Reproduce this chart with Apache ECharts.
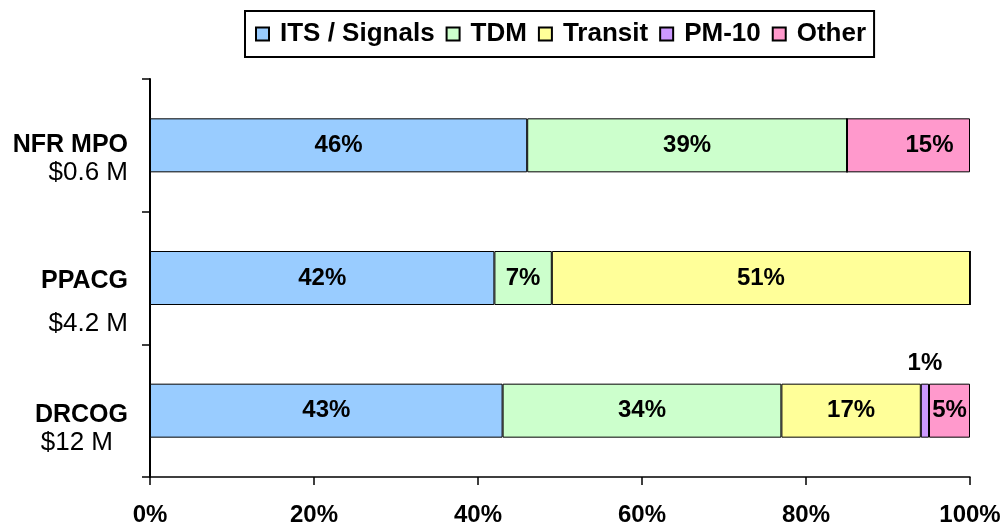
<!DOCTYPE html>
<html>
<head>
<meta charset="utf-8">
<script src="https://cdn.jsdelivr.net/npm/echarts@6/dist/echarts.min.js"></script>
<style>
html,body{margin:0;padding:0;background:#fff;}
#chart{width:1008px;height:527px;}
</style>
</head>
<body>
<div id="chart"></div>
<script>
const categories = ['NFR MPO', 'PPACG', 'DRCOG'];
const budgets = ['$0.6 M', '$4.2 M', '$12 M'];
const seriesNames = ['ITS / Signals', 'TDM', 'Transit', 'PM-10', 'Other'];
const itsSignals = [46, 42, 43];
const tdm = [39, 7, 34];
const transit = [0, 51, 17];
const pm10 = [0, 0, 1];
const other = [15, 0, 5];
const xTicks = [0, 20, 40, 60, 80, 100];

const colors = ['#99CCFF', '#CCFFCC', '#FFFF99', '#CC99FF', '#FF99CC'];
const allValues = [itsSignals, tdm, transit, pm10, other];
const FONT = '"Liberation Sans", Arial, sans-serif';

// per-category label line heights (top spacer, name, budget)
const lineH = [[27, 27, 27], [49, 43, 43], [36, 28, 28]];
const rich = {};
lineH.forEach((h, i) => {
  rich['g' + i] = { lineHeight: h[0], fontSize: 24, fontFamily: FONT };
  rich['n' + i] = { lineHeight: h[1], fontSize: 25, fontWeight: 'bold', color: '#000', fontFamily: FONT, align: 'right' };
  rich['v' + i] = { lineHeight: h[2], fontSize: 26, color: '#000', fontFamily: FONT, align: 'right', padding: i === 2 ? [0, 15, 0, 0] : 0 };
});

const series = allValues.map((vals, si) => ({
  name: seriesNames[si],
  type: 'bar',
  stack: 'total',
  barWidth: 54,
  itemStyle: { color: colors[si], borderColor: '#000', borderWidth: 1 },
  label: {
    show: true,
    position: 'inside',
    color: '#000',
    fontWeight: 'bold',
    fontSize: 24,
    fontFamily: FONT,
    formatter: p => (p.value > 0 ? p.value + '%' : '')
  },
  data: vals.map((v, ci) => {
    const item = { value: v };
    if (si === 3 && ci === 2) {
      item.label = { position: 'top', distance: 8 };
    }
    if (si === 4 && ci === 0) {
      item.label = { offset: [21, 0] };
    }
    return item;
  })
}));

const chart = echarts.init(document.getElementById('chart'), null, { renderer: 'canvas' });
chart.setOption({
  animation: false,
  backgroundColor: '#fff',
  textStyle: { fontFamily: FONT },
  legend: {
    left: 245,
    top: 11,
    data: seriesNames,
    icon: 'rect',
    itemWidth: 13,
    itemHeight: 13,
    itemGap: 11,
    padding: [10, 8, 10, 10],
    borderColor: '#000',
    borderWidth: 2,
    textStyle: { fontSize: 26, fontWeight: 'bold', color: '#000', fontFamily: FONT, padding: [0, 0, 0, 6] }
  },
  grid: { left: 150, right: 38, top: 79, bottom: 48, containLabel: false },
  xAxis: {
    type: 'value',
    min: xTicks[0],
    max: xTicks[xTicks.length - 1],
    interval: xTicks[1] - xTicks[0],
    axisLine: { show: true, lineStyle: { color: '#000', width: 1.5 } },
    axisTick: { show: true, length: 8, lineStyle: { color: '#000', width: 1.5 } },
    splitLine: { show: false },
    axisLabel: {
      margin: 26,
      color: '#000',
      fontWeight: 'bold',
      fontSize: 24,
      fontFamily: FONT,
      formatter: '{value}%'
    }
  },
  yAxis: {
    type: 'category',
    inverse: true,
    data: categories,
    axisLine: { show: true, lineStyle: { color: '#000', width: 2 } },
    axisTick: { show: true, length: 8, lineStyle: { color: '#000', width: 1.5 } },
    axisLabel: {
      margin: 22,
      align: 'right',
      formatter: (val, idx) => '{g' + idx + '| }\n{n' + idx + '|' + val + '}\n{v' + idx + '|' + budgets[idx] + '}',
      rich: rich
    }
  },
  series: series
});
</script>
</body>
</html>
